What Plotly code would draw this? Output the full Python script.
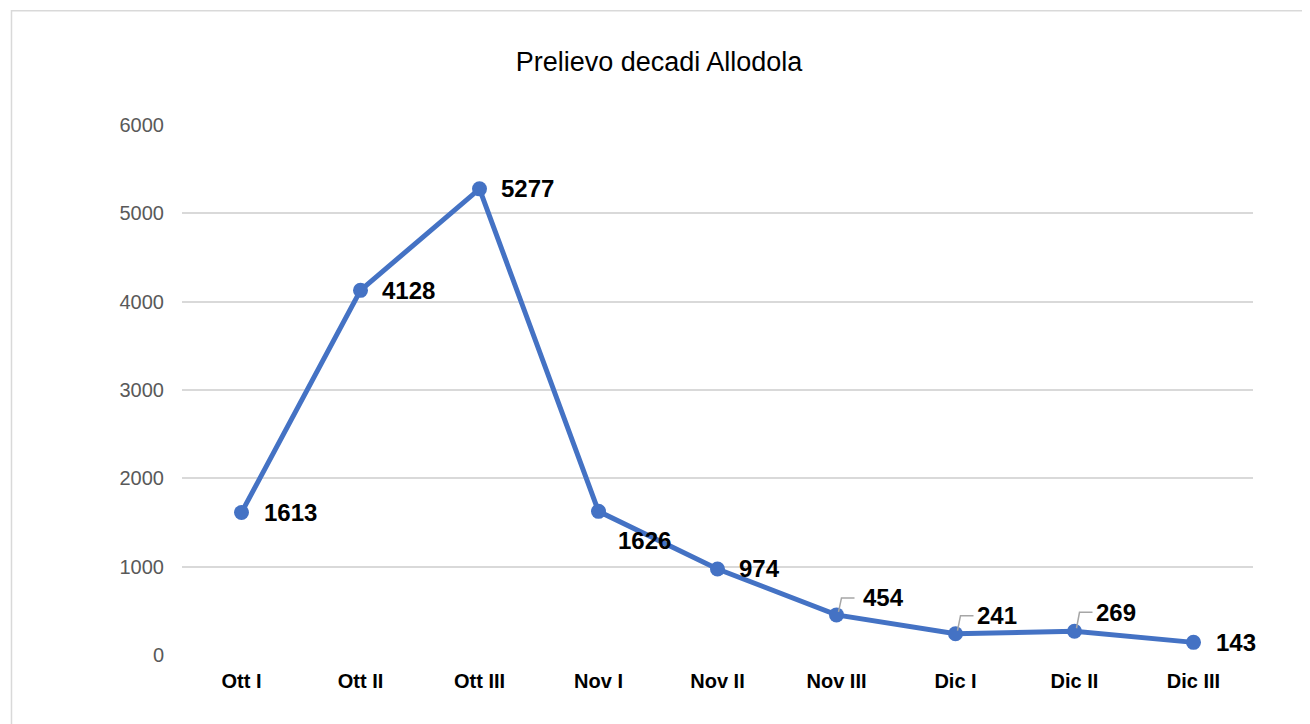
import plotly.graph_objects as go

categories = ["Ott I", "Ott II", "Ott III", "Nov I", "Nov II", "Nov III", "Dic I", "Dic II", "Dic III"]
values = [1613, 4128, 5277, 1626, 974, 454, 241, 269, 143]
y_ticks = [0, 1000, 2000, 3000, 4000, 5000, 6000]
title_text = "Prelievo decadi Allodola"

# label placement (pixel offsets from the point) and leader-line flags
label_dx = [20, 19, 19, 17, 19, 24, 19, 19, 20]
label_dy = [0, 0, 0, -29, 0, 17, 18, 19, 0]
leader = [False, False, False, False, False, True, True, True, False]

LINE_COLOR = "#4472C4"
FONT = "Liberation Sans, Arial, sans-serif"

fig = go.Figure()
fig.add_trace(go.Scatter(
    x=categories, y=values, mode="lines+markers",
    line=dict(color=LINE_COLOR, width=5),
    marker=dict(color=LINE_COLOR, size=15),
    hoverinfo="skip", showlegend=False,
))

for i, (c, v) in enumerate(zip(categories, values)):
    fig.add_annotation(
        x=c, y=v, xref="x", yref="y", text=f"<b>{v}</b>",
        showarrow=False, xanchor="left", yanchor="middle",
        xshift=label_dx[i], yshift=label_dy[i],
        font=dict(family=FONT, size=24, color="#000000"),
    )
    if leader[i]:
        fig.add_shape(
            type="path", xref="x", yref="y",
            xsizemode="pixel", ysizemode="pixel",
            xanchor=i, yanchor=v,
            path=f"M 2 3 L 5 {label_dy[i]} L 18 {label_dy[i]}",
            line=dict(color="#A6A6A6", width=1.5),
        )

# outer chart border
fig.add_shape(type="rect", xref="paper", yref="paper",
              x0=-0.1592, x1=1.2, y0=-0.3, y1=1.2158,
              line=dict(color="#D9D9D9", width=1.5), layer="below")

fig.update_layout(
    width=1302, height=716,
    margin=dict(l=174, r=57, t=117, b=69),
    paper_bgcolor="white", plot_bgcolor="white",
    title=dict(text=title_text, x=0.5, xanchor="center", y=1 - 54 / 716,
               yanchor="middle", yref="container",
               font=dict(family=FONT, size=27, color="#000000")),
    font=dict(family=FONT),
)
fig.update_xaxes(
    range=[-0.5, 8.5], showgrid=False, showline=False, zeroline=False,
    ticks="", ticklabelstandoff=12,
    tickfont=dict(family=FONT, size=20, color="#000000", weight="bold"),
)
fig.update_yaxes(
    range=[0, 6000], tickvals=y_ticks, showgrid=True, gridcolor="#D9D9D9", gridwidth=1.6,
    zeroline=False, showline=False, ticks="", ticklabelstandoff=17,
    tickfont=dict(family=FONT, size=20, color="#595959"),
)

fig.write_html("out.html")
